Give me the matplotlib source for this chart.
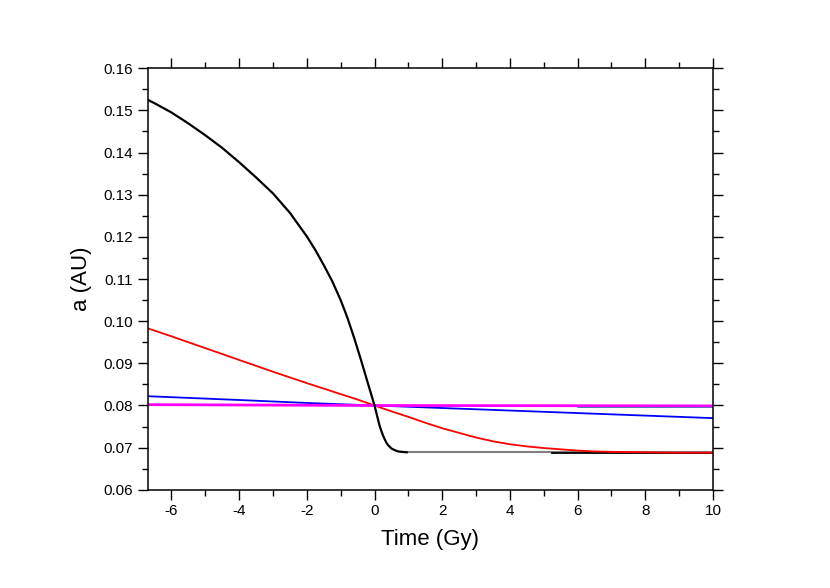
import matplotlib
matplotlib.use('AGG')
import matplotlib.pyplot as plt
from matplotlib.ticker import MultipleLocator, FormatStrFormatter

plt.rcParams['font.family'] = ['Liberation Sans', 'DejaVu Sans']
plt.rcParams['axes.unicode_minus'] = False

# black curve (steep decay to the flat level)
t_black = [-6.7, -6.5, -6.0, -5.5, -5.0, -4.5, -4.0, -3.5, -3.0, -2.5, -2.0, -1.75,
           -1.5, -1.25, -1.0, -0.8, -0.6, -0.4, -0.2, 0.0, 0.1, 0.15, 0.2, 0.25,
           0.3, 0.35, 0.4, 0.5, 0.6, 0.7, 0.8, 0.95]
a_black = [0.1525, 0.1517, 0.1495, 0.1469, 0.1441, 0.1411, 0.1377, 0.1341, 0.1303,
           0.1257, 0.1201, 0.1169, 0.1133, 0.1095, 0.1050, 0.1008, 0.0960, 0.0908,
           0.0854, 0.0800, 0.0768, 0.0752, 0.0740, 0.0729, 0.0720, 0.0712, 0.0706,
           0.0698, 0.0694, 0.0691, 0.0690, 0.0689]
# flat tail of the black curve (grey part, then black again)
t_grey = [0.95, 10.0]
a_grey = [0.0689, 0.0689]
t_tail = [5.25, 10.0]
a_tail = [0.0688, 0.0688]

# red curve
t_red = [-6.7, -6.0, -5.0, -4.0, -3.0, -2.0, -1.0, -0.5, 0.0, 0.5, 1.0, 1.5, 2.0,
         2.5, 3.0, 3.5, 4.0, 4.5, 5.0, 5.5, 6.0, 6.5, 7.0, 8.0, 9.0, 10.0]
a_red = [0.0983, 0.0964, 0.0936, 0.0908, 0.0880, 0.0853, 0.0827, 0.0814, 0.0800,
         0.0786, 0.0773, 0.0759, 0.0746, 0.0735, 0.0724, 0.0715, 0.0708, 0.0703,
         0.0699, 0.0696, 0.0693, 0.0691, 0.0690, 0.0689, 0.0688, 0.0688]

# blue curve
t_blue = [-6.7, -4.0, -2.0, 0.0, 2.0, 4.0, 6.0, 8.0, 10.0]
a_blue = [0.0822, 0.0813, 0.0806, 0.0800, 0.0794, 0.0788, 0.0782, 0.0776, 0.0770]

# teal fragments hidden under the blue / magenta lines
t_teal1 = [-1.2, 0.0]
a_teal1 = [0.0800, 0.0800]
t_teal2 = [6.0, 10.0]
a_teal2 = [0.0797, 0.0797]

# magenta curve
t_mag = [-6.7, 0.0, 10.0]
a_mag = [0.0802, 0.0800, 0.0799]

fig = plt.figure(figsize=(8.3, 5.88), dpi=100)
ax = fig.add_axes([0.178, 0.167, 0.681, 0.717])

ax.plot(t_teal1, a_teal1, color='#008b8b', lw=1.2)
ax.plot(t_teal2, a_teal2, color='#008b8b', lw=1.2)
ax.plot(t_grey, a_grey, color='#808080', lw=1.5)
ax.plot(t_tail, a_tail, color='black', lw=1.3)
ax.plot(t_blue, a_blue, color='blue', lw=1.3)
ax.plot(t_red, a_red, color='red', lw=1.3)
ax.plot(t_mag, a_mag, color='magenta', lw=2.0)
ax.plot(t_black, a_black, color='black', lw=1.6)

ax.set_xlim(-6.7, 10)
ax.set_ylim(0.06, 0.16)
ax.xaxis.set_major_locator(MultipleLocator(2))
ax.xaxis.set_minor_locator(MultipleLocator(1))
ax.yaxis.set_major_locator(MultipleLocator(0.01))
ax.yaxis.set_minor_locator(MultipleLocator(0.005))
ax.yaxis.set_major_formatter(FormatStrFormatter('%.2f'))

ax.tick_params(which='both', direction='out', top=True, right=True,
               width=1.0, labelsize=11)
ax.tick_params(which='major', length=7)
ax.tick_params(which='minor', length=4)
for s in ax.spines.values():
    s.set_linewidth(1.1)

ax.set_xlabel('Time (Gy)', fontsize=16, labelpad=8)
ax.set_ylabel('a (AU)', fontsize=16, labelpad=8)

fig.savefig('out.png', dpi=100)
